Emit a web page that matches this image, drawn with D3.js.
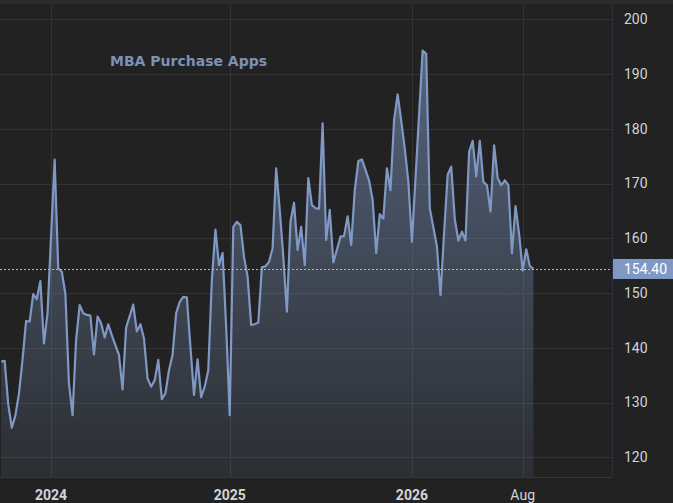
<!DOCTYPE html>
<html>
<head>
<meta charset="utf-8">
<script src="https://cdn.jsdelivr.net/npm/d3@7/dist/d3.min.js"></script>
<style>
  html, body { margin: 0; padding: 0; background: #222222; }
  text { font-family: Roboto, "DejaVu Sans", sans-serif; }
</style>
</head>
<body>
<div id="chart"></div>
<script>
// weekly readings, oldest first
var values = [
  137.5, 137.6, 129.7, 125.4, 127.6, 131.6, 137.8, 144.9, 144.8, 149.8,
  148.9, 152.2, 140.8, 146.3, 160.5, 174.4, 154.5, 153.9, 149.9, 133.5,
  127.7, 141.4, 147.8, 146.3, 146.0, 145.9, 138.8, 145.7, 144.5, 141.9,
  144.3, 142.3, 140.5, 138.7, 132.4, 143.7, 145.8, 147.9, 143.0, 144.3,
  141.7, 134.4, 132.9, 134.1, 137.8, 130.6, 131.7, 135.9, 138.7, 146.3,
  148.4, 149.3, 149.2, 140.2, 131.4, 137.9, 131.0, 132.9, 135.9, 152.4,
  161.6, 155.1, 157.3, 143.9, 127.7, 162.1, 163.0, 162.4, 156.6, 153.0,
  144.2, 144.3, 144.6, 154.7, 154.9, 155.7, 158.2, 172.8, 165.2, 156.6,
  146.6, 163.0, 166.5, 157.9, 162.1, 155.1, 171.0, 166.1, 165.5, 165.4,
  181.0, 159.7, 165.2, 155.6, 157.9, 160.3, 160.4, 164.0, 158.8, 168.8,
  174.1, 174.4, 172.5, 170.6, 167.0, 157.3, 164.4, 163.6, 172.8, 168.8,
  181.6, 186.3, 181.5, 176.4, 170.3, 159.4, 171.0, 182.6, 194.3, 193.7,
  165.5, 162.0, 158.5, 149.6, 161.0, 171.6, 173.1, 163.5, 159.6, 161.2,
  159.6, 175.8, 177.8, 171.3, 177.8, 170.3, 169.7, 164.9, 177.0, 171.0,
  169.7, 170.6, 169.7, 157.3, 165.9, 160.8, 154.1, 158.0, 154.9, 154.4
];
var lastValue = 154.40;
var tickLabels = ["2024", "2025", "2026", "Aug"];
var tickIndex = [14, 64, 115, 146];
var tickBold = [true, true, true, false];
var yTicks = [120, 130, 140, 150, 160, 170, 180, 190, 200];
var title = "MBA Purchase Apps";

var W = 673, H = 503;
var plot = { left: 0, top: 4, right: 612, bottom: 477 };

var svg = d3.select("#chart").append("svg")
    .attr("width", W)
    .attr("height", H);

svg.append("rect").attr("width", W).attr("height", H).attr("fill", "#222222");
svg.append("rect").attr("width", W).attr("height", plot.top).attr("fill", "#2b2b2b");

var x = d3.scaleLinear().domain([-0.3, 171]).range([plot.left, plot.right]);
var y = d3.scaleLinear().domain([116.4, 202.8]).range([plot.bottom, plot.top]);

var defs = svg.append("defs");
defs.append("clipPath").attr("id", "clip")
  .append("rect")
    .attr("x", plot.left).attr("y", plot.top)
    .attr("width", plot.right - plot.left).attr("height", plot.bottom - plot.top);

var grad = defs.append("linearGradient")
    .attr("id", "fillGrad")
    .attr("gradientUnits", "userSpaceOnUse")
    .attr("x1", 0).attr("x2", 0)
    .attr("y1", y(d3.max(values))).attr("y2", plot.bottom);
grad.append("stop").attr("offset", 0).attr("stop-color", "#7f98c4").attr("stop-opacity", 0.55);
grad.append("stop").attr("offset", 1).attr("stop-color", "#7f98c4").attr("stop-opacity", 0.1);

//grid
var grid = svg.append("g").attr("clip-path", "url(#clip)");
grid.selectAll(".hgrid")
  .data(yTicks)
  .enter().append("line")
    .attr("x1", plot.left).attr("x2", plot.right)
    .attr("y1", d => Math.round(y(d)) + 0.5).attr("y2", d => Math.round(y(d)) + 0.5)
    .attr("stroke", "#333333");
grid.selectAll(".vgrid")
  .data(tickIndex)
  .enter().append("line")
    .attr("x1", d => Math.round(x(d)) + 0.5).attr("x2", d => Math.round(x(d)) + 0.5)
    .attr("y1", plot.top).attr("y2", plot.bottom)
    .attr("stroke", "#333333");

//area + line
var g = svg.append("g").attr("clip-path", "url(#clip)");
var area = d3.area()
    .x((d, i) => x(i))
    .y0(plot.bottom)
    .y1(d => y(d));
var line = d3.line()
    .x((d, i) => x(i))
    .y(d => y(d));

g.append("path").datum(values)
    .attr("d", area)
    .attr("fill", "url(#fillGrad)");
g.append("path").datum(values)
    .attr("d", line)
    .attr("fill", "none")
    .attr("stroke", "#7f98c4")
    .attr("stroke-width", 2.2)
    .attr("stroke-linejoin", "round");

//last value dashed line
svg.append("line")
    .attr("x1", plot.left).attr("x2", plot.right)
    .attr("y1", Math.round(y(lastValue)) + 0.5).attr("y2", Math.round(y(lastValue)) + 0.5)
    .attr("stroke", "#a9bbd8")
    .attr("stroke-width", 1)
    .attr("stroke-dasharray", "2,2");

//borders
svg.append("line")
    .attr("x1", plot.right + 0.5).attr("x2", plot.right + 0.5)
    .attr("y1", plot.top).attr("y2", plot.bottom)
    .attr("stroke", "#2d2d3d");
svg.append("line")
    .attr("x1", plot.left).attr("x2", plot.right)
    .attr("y1", plot.bottom + 0.5).attr("y2", plot.bottom + 0.5)
    .attr("stroke", "#363640");

//right axis labels
svg.selectAll(".ylab")
  .data(yTicks)
  .enter().append("text")
    .attr("x", 624)
    .attr("y", d => y(d))
    .attr("dy", "0.35em")
    .attr("fill", "#d1d4dc")
    .style("font-size", "14px")
    .text(d => d);

//price tag
svg.append("rect")
    .attr("x", plot.right + 1).attr("y", y(lastValue) - 10)
    .attr("width", W - plot.right - 1).attr("height", 20)
    .attr("fill", "#7f98c4");
svg.append("text")
    .attr("x", 624)
    .attr("y", y(lastValue))
    .attr("dy", "0.35em")
    .attr("fill", "#ffffff")
    .style("font-size", "14px")
    .text(lastValue.toFixed(2));

//bottom labels
svg.selectAll(".xlab")
  .data(tickIndex)
  .enter().append("text")
    .attr("x", d => x(d))
    .attr("y", 495)
    .attr("dy", "0.35em")
    .attr("text-anchor", "middle")
    .attr("fill", "#d1d4dc")
    .style("font-size", "14px")
    .style("font-weight", (d, i) => tickBold[i] ? "bold" : "normal")
    .text((d, i) => tickLabels[i]);

//title
svg.append("text")
    .attr("x", 110)
    .attr("y", 66)
    .attr("fill", "#7b91b9")
    .style("font-size", "14px")
    .style("font-weight", "bold")
    .style("font-family", "'DejaVu Sans', sans-serif")
    .text(title);
</script>
</body>
</html>
